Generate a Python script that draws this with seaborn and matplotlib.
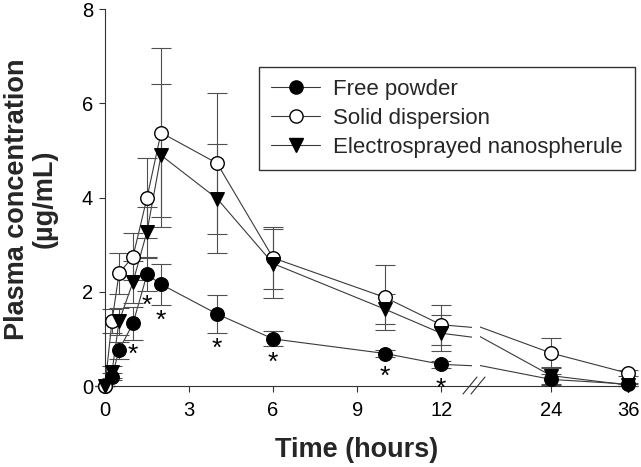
import matplotlib
matplotlib.use("Agg")
import pandas as pd
import matplotlib.pyplot as plt
import seaborn as sns
from matplotlib.lines import Line2D

# sampling times (hours) and mean / SD plasma levels (ug/mL)
time_h = [0, 0.25, 0.5, 1, 1.5, 2, 4, 6, 10, 12, 24, 36]

free_mean = [0.0, 0.20, 0.76, 1.33, 2.37, 2.16, 1.53, 1.00, 0.69, 0.46, 0.14, 0.04]
free_sd = [0.0, 0.08, 0.18, 0.35, 0.35, 0.43, 0.41, 0.16, 0.08, 0.08, 0.12, 0.03]

solid_mean = [0.0, 1.38, 2.39, 2.75, 4.00, 5.38, 4.73, 2.72, 1.88, 1.30, 0.70, 0.27]
solid_sd = [0.0, 0.25, 0.44, 0.50, 0.85, 1.80, 1.50, 0.65, 0.69, 0.43, 0.32, 0.06]

elec_mean = [0.0, 0.30, 1.37, 2.21, 3.28, 4.90, 3.98, 2.60, 1.63, 1.12, 0.22, 0.02]
elec_sd = [0.0, 0.12, 0.28, 0.45, 0.53, 1.52, 1.16, 0.73, 0.32, 0.38, 0.18, 0.03]

# significance marks (*) under the free powder curve
star_t = [1, 1.5, 2, 4, 6, 10, 12]
star_y = [0.80, 1.84, 1.54, 0.94, 0.64, 0.34, 0.09]

labels = ["Free powder", "Solid dispersion", "Electrosprayed nanospherule"]
left_ticks = [0, 3, 6, 9, 12]
right_ticks = [24, 36]
y_ticks = [0, 2, 4, 6, 8]

sns.set_style("ticks")
plt.rcParams["font.family"] = ["Liberation Sans", "DejaVu Sans"]

W, H = 641, 467
fig = plt.figure(figsize=(W / 100, H / 100), dpi=100)
ax1 = fig.add_axes([105 / W, 1 - 386 / H, 367 / W, 376.7 / H])
ax2 = fig.add_axes([480 / W, 1 - 386 / H, 152 / W, 376.7 / H], sharey=ax1)

line_col = "#3a3a3a"
err_col = "#505050"
styles = [("o", "black"), ("o", "white"), ("v", "black")]
all_series = [(free_mean, free_sd), (solid_mean, solid_sd), (elec_mean, elec_sd)]

for ax, lo, hi in [(ax1, 0, 12), (ax2, 24, 36)]:
    for i, ((mean, sd), (mk, fc)) in enumerate(zip(all_series, styles)):
        d = pd.DataFrame({"time": time_h, "conc": mean, "sd": sd})
        sns.lineplot(data=d, x="time", y="conc", ax=ax, color=line_col,
                     lw=0.8, errorbar=None, zorder=2)
        sub = d[(d["time"] >= lo) & (d["time"] <= hi)]
        ax.errorbar(sub["time"], sub["conc"], yerr=sub["sd"], fmt="none",
                    ecolor=err_col, elinewidth=0.8, capsize=7, capthick=0.8,
                    zorder=2.5, clip_on=False)
        sns.scatterplot(data=sub, x="time", y="conc", ax=ax, marker=mk,
                        s=95, color=fc, edgecolor="black", linewidth=1,
                        zorder=3 + i * 0.1, clip_on=False)
    ax.set_xlabel("")
    ax.set_ylabel("")

for t, y in zip(star_t, star_y):
    ax1.annotate("*", (t, y), xytext=(0, -5), textcoords="offset points",
                 ha="center", va="center", fontsize=19, color="black")

ax1.set_xlim(0, 13.1)
ax2.set_xlim(12.94, 36.6)
ax1.set_ylim(0, 8)
ax1.set_xticks(left_ticks)
ax2.set_xticks(right_ticks)
ax1.set_yticks(y_ticks)

for ax in (ax1, ax2):
    for side in ("top", "right"):
        ax.spines[side].set_visible(False)
    for side in ("left", "bottom"):
        ax.spines[side].set_linewidth(0.8)
        ax.spines[side].set_color("#333333")
    ax.tick_params(length=4.5, width=0.8, color="#333333", labelsize=14.5,
                   labelcolor="black")
    ax.tick_params(axis="x", pad=6)
    ax.tick_params(axis="y", pad=4)
ax2.spines["left"].set_visible(False)
ax2.tick_params(axis="y", left=False, labelleft=False)

# continuous baseline through the break plus the // marks
yb = 1 - 386 / H
fig.add_artist(Line2D([471 / W, 481 / W], [yb, yb], color="#333333", lw=0.8))
for x0 in (463, 471):
    fig.add_artist(Line2D([x0 / W, (x0 + 14) / W], [1 - 394 / H, 1 - 377 / H],
                          color="#333333", lw=0.8))

handles = [Line2D([], [], color=line_col, lw=0.8, marker=mk, markersize=9.5,
                  markerfacecolor=fc, markeredgecolor="black", markeredgewidth=1)
           for mk, fc in styles]
leg = fig.legend(handles, labels, loc="upper left",
                 bbox_to_anchor=(259 / W, 1 - 67 / H), borderaxespad=0,
                 fontsize=16, frameon=True, fancybox=False, handlelength=2.2,
                 handletextpad=0.6, labelspacing=0.35, borderpad=0.55)
leg.get_frame().set_edgecolor("black")
leg.get_frame().set_linewidth(1)

fig.text(357 / W, 1 - 450 / H, "Time (hours)", ha="center", va="center",
         fontsize=19.5, fontweight="bold")
fig.text(31 / W, 1 - 199 / H, "Plasma concentration\n(µg/mL)", ha="center",
         va="center", rotation=90, fontsize=19.5, fontweight="bold",
         linespacing=1.1)

fig.savefig("out.png", dpi=100)
